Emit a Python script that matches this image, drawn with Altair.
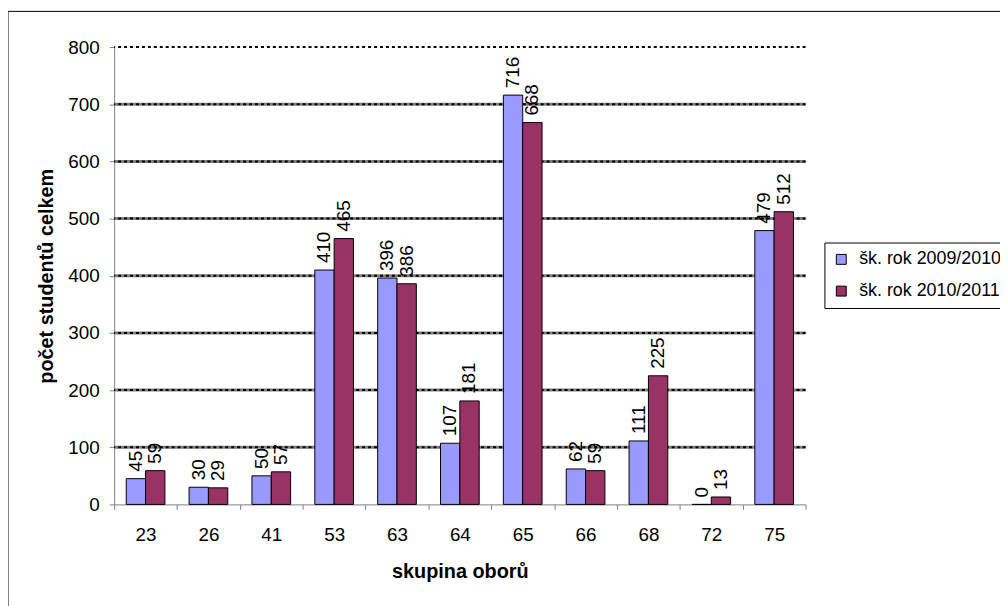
import altair as alt
import pandas as pd

categories = ["23", "26", "41", "53", "63", "64", "65", "66", "68", "72", "75"]
series_names = ["šk. rok 2009/2010", "šk. rok 2010/2011"]
values_2009 = [45, 30, 50, 410, 396, 107, 716, 62, 111, 0, 479]
values_2010 = [59, 29, 57, 465, 386, 181, 668, 59, 225, 13, 512]
grid_gray_values = [100, 200, 300, 400, 500, 600, 700]
grid_dash_values = [100, 200, 300, 400, 500, 600, 700, 800]
y_ticks = [0, 100, 200, 300, 400, 500, 600, 700, 800]
colors = ["#9999FF", "#993366"]

rows = []
for c, a, b in zip(categories, values_2009, values_2010):
    rows.append({"cat": c, "series": series_names[0], "value": a})
    rows.append({"cat": c, "series": series_names[1], "value": b})
df = pd.DataFrame(rows)

FONT = "Liberation Sans"
FS = 19
TFS = 20

y_scale = alt.Scale(domain=[0, 800], nice=False)
y_axis = alt.Axis(
    values=y_ticks, grid=False, title="počet studentů celkem",
    domainColor="#808080", tickColor="#808080", tickSize=5,
    labelFont=FONT, labelFontSize=FS, labelColor="black", labelPadding=10,
    titleFont=FONT, titleFontSize=TFS, titleFontWeight="bold", titleColor="black",
    titleX=-68, titleY=230.5, titleAngle=270, titleAlign="center", titleBaseline="middle",
)

x_enc = alt.X(
    "cat:N", sort=categories,
    scale=alt.Scale(paddingInner=0, paddingOuter=0),
    axis=alt.Axis(
        title="skupina oborů", labelAngle=0, tickBand="extent",
        domainColor="#808080", tickColor="#808080", tickSize=5,
        labelFont=FONT, labelFontSize=FS, labelColor="black", labelPadding=16,
        titleFont=FONT, titleFontSize=TFS, titleFontWeight="bold", titleColor="black",
        titleY=68, titleBaseline="middle",
    ),
)
xoff_enc = alt.XOffset("series:N", sort=series_names,
                       scale=alt.Scale(paddingInner=0, paddingOuter=0.625))
y_enc = alt.Y("value:Q", scale=y_scale, axis=y_axis)

border = alt.Chart(pd.DataFrame({"a": [0]})).mark_rect(
    fillOpacity=0, stroke="black", strokeWidth=1
).encode(
    x=alt.value(-107), x2=alt.value(1000), y=alt.value(-36), y2=alt.value(700)
)

grid_gray = alt.Chart(pd.DataFrame({"value": grid_gray_values})).mark_rule(
    color="#808080", strokeWidth=3
).encode(y=y_enc)

grid_dash = alt.Chart(pd.DataFrame({"value": grid_dash_values})).mark_rule(
    color="black", strokeWidth=2, strokeDash=[3, 3]
).encode(y=y_enc)

bars = alt.Chart(df).mark_bar(stroke="black", strokeWidth=1).encode(
    x=x_enc, xOffset=xoff_enc, y=y_enc,
    color=alt.Color(
        "series:N", sort=series_names,
        scale=alt.Scale(domain=series_names, range=colors),
        legend=alt.Legend(
            title=None, orient="none", legendX=716, legendY=197,
            strokeColor="black", fillColor="white", padding=8,
            symbolType="square", symbolSize=100, symbolStrokeColor="black",
            symbolStrokeWidth=1, labelFont=FONT, labelFontSize=18,
            labelColor="black", rowPadding=14, labelOffset=9, labelLimit=400,
        ),
    ),
)

labels = alt.Chart(df).mark_text(
    angle=270, align="left", baseline="middle", dx=7,
    font=FONT, fontSize=FS, color="black"
).encode(x=x_enc, xOffset=xoff_enc, y=y_enc, text=alt.Text("value:Q"))

chart = alt.layer(border, grid_gray, grid_dash, bars, labels).properties(
    width=697, height=461,
    padding={"left": 107, "top": 37, "right": 196, "bottom": 100},
    autosize=alt.AutoSizeParams(type="none"),
).configure_view(stroke=None)

chart.save("out.html", embed_options={"renderer": "svg", "actions": False})
